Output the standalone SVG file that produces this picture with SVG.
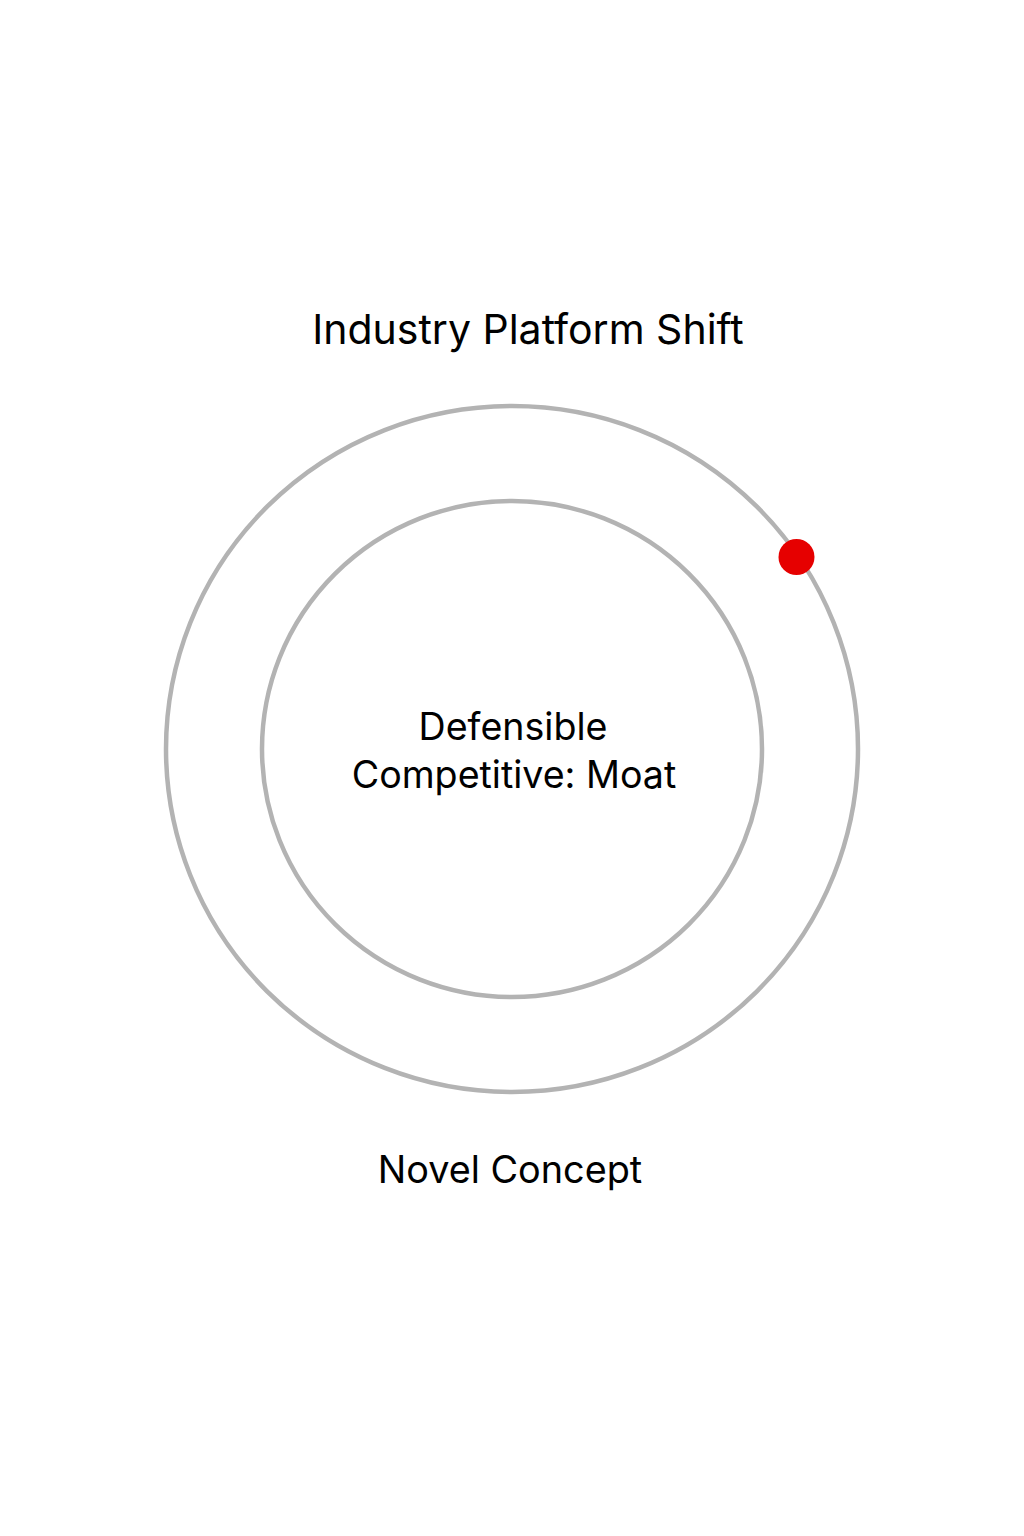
<svg xmlns="http://www.w3.org/2000/svg" width="1024" height="1536" viewBox="0 0 1024 1536">
<style>
.ring{fill:none;stroke:#b3b3b3;stroke-width:4.5}
.lbl{font-family:Inter,"Liberation Sans",sans-serif;fill:#000;text-anchor:middle}
</style>
<rect width="1024" height="1536" fill="#fff"/>
<g id="outer-ring"><ellipse class="ring" cx="512" cy="749" rx="346" ry="343"/></g>
<g id="inner-ring"><ellipse class="ring" cx="512" cy="749" rx="250" ry="248"/></g>
<g id="marker"><circle cx="796.5" cy="557" r="18" fill="#e60000"/></g>
<g id="title"><text class="lbl" x="528" y="344" font-size="41">Industry Platform Shift</text></g>
<g id="core"><text class="lbl" x="513" y="740" font-size="37.6">Defensible</text><text class="lbl" x="514" y="788" font-size="37.6">Competitive: Moat</text></g>
<g id="bottom"><text class="lbl" x="510" y="1183" font-size="37.8">Novel Concept</text></g>
<g id="connectors"/>
</svg>
